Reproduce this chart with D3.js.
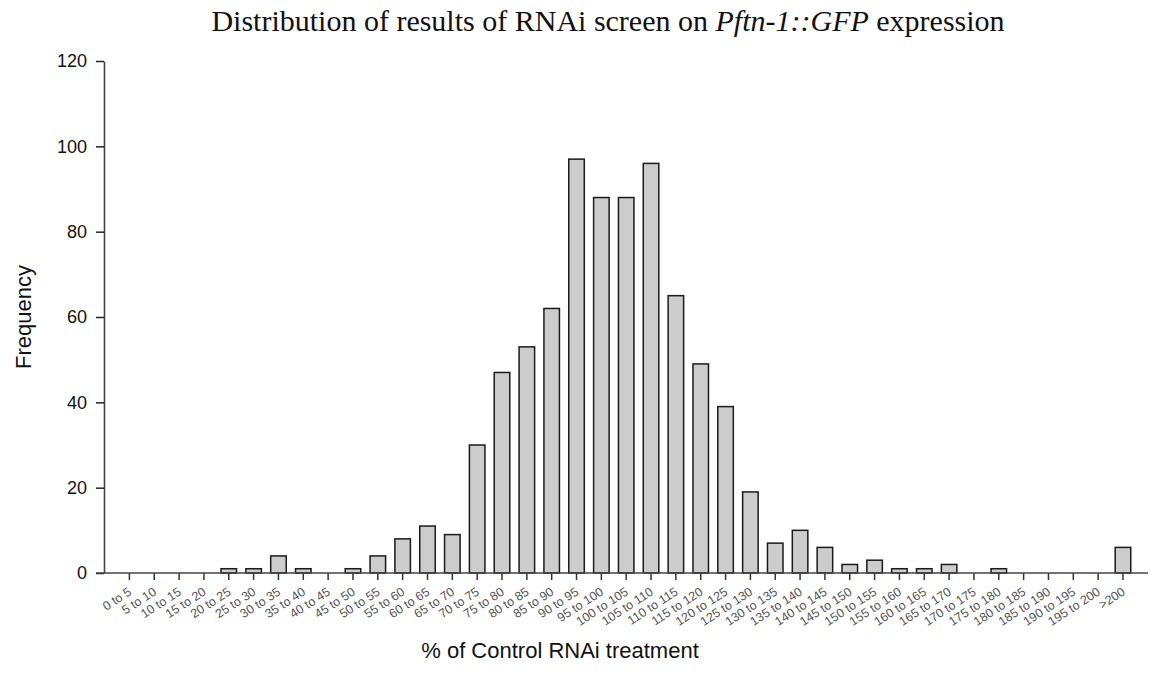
<!DOCTYPE html>
<html>
<head>
<meta charset="utf-8">
<script src="https://cdn.jsdelivr.net/npm/d3@7"></script>
<style>
  body { margin: 0; background: #fff; }
  text { font-family: "Liberation Sans", Arial, sans-serif; }
</style>
</head>
<body>
<div id="chart"></div>
<script>
const categories = [
    "0 to 5", "5 to 10", "10 to 15", "15 to 20", "20 to 25", "25 to 30", "30 to 35", "35 to 40",
    "40 to 45", "45 to 50", "50 to 55", "55 to 60", "60 to 65", "65 to 70", "70 to 75", "75 to 80",
    "80 to 85", "85 to 90", "90 to 95", "95 to 100", "100 to 105", "105 to 110", "110 to 115",
    "115 to 120", "120 to 125", "125 to 130", "130 to 135", "135 to 140", "140 to 145", "145 to 150",
    "150 to 155", "155 to 160", "160 to 165", "165 to 170", "170 to 175", "175 to 180", "180 to 185",
    "185 to 190", "190 to 195", "195 to 200", ">200"
];
const frequency = [
    0, 0, 0, 0, 1, 1, 4, 1,
    0, 1, 4, 8, 11, 9, 30, 47,
    53, 62, 97, 88, 88, 96, 65,
    49, 39, 19, 7, 10, 6, 2,
    3, 1, 1, 2, 0, 1, 0,
    0, 0, 0, 6
];
const yTicks = [0, 20, 40, 60, 80, 100, 120];

const width = 1151;
const height = 675;
const axisX = 104;
const plotTop = 61, plotBottom = 573;

const svg = d3.select("#chart")
    .append("svg")
    .attr("width", width)
    .attr("height", height);

const x = d3.scaleBand()
    .domain(categories)
    .range([117, 1135.4])
    .paddingInner(0.375)
    .paddingOuter(0.1875);

const y = d3.scaleLinear()
    .domain([0, 120])
    .range([plotBottom, plotTop]);

// bars
svg.selectAll(".bar")
    .data(categories)
    .enter()
    .append("rect")
    .attr("class", "bar")
    .attr("x", d => x(d))
    .attr("y", (d, i) => y(frequency[i]))
    .attr("width", x.bandwidth())
    .attr("height", (d, i) => y(0) - y(frequency[i]))
    .attr("fill", "#cccccc")
    .attr("stroke", "#1a1a1a")
    .attr("stroke-width", 1.5);

// y axis
const yAxis = svg.append("g")
    .attr("transform", `translate(${axisX},0)`)
    .call(d3.axisLeft(y).tickValues(yTicks).tickSize(8).tickSizeOuter(0).tickPadding(9));
yAxis.select(".domain").attr("stroke", "#444").attr("stroke-width", 1.6);
yAxis.selectAll(".tick line").attr("stroke", "#222").attr("stroke-width", 1.5);
yAxis.selectAll(".tick text")
    .attr("font-size", 18)
    .attr("fill", "#111")
    .style("font-family", "'Liberation Sans', Arial, sans-serif");

// x axis
const xAxis = svg.append("g")
    .attr("transform", `translate(0,${plotBottom})`)
    .call(d3.axisBottom(x).tickSize(7).tickSizeOuter(0));
xAxis.select(".domain").remove();
xAxis.append("line")
    .attr("x1", axisX - 8)
    .attr("x2", 1148)
    .attr("stroke", "#444")
    .attr("stroke-width", 1.6);
xAxis.selectAll(".tick line").attr("stroke", "#333").attr("stroke-width", 1.5);
xAxis.selectAll(".tick text")
    .attr("font-size", 12.5)
    .attr("fill", "#555")
    .attr("text-anchor", "end")
    .attr("dy", 0)
    .attr("y", 0)
    .attr("transform", "translate(3,21) rotate(-33)")
    .style("font-family", "'Liberation Sans', Arial, sans-serif");

// title
const title = svg.append("text")
    .attr("x", 608)
    .attr("y", 31)
    .attr("text-anchor", "middle")
    .style("font-family", "'Liberation Serif', 'Times New Roman', serif")
    .attr("font-size", 30)
    .attr("fill", "#111");
title.append("tspan").text("Distribution of results of RNAi screen on ");
title.append("tspan").attr("font-style", "italic").text("Pftn-1::GFP");
title.append("tspan").text(" expression");

// axis labels
svg.append("text")
    .attr("transform", `translate(31,${(plotTop + plotBottom) / 2}) rotate(-90)`)
    .attr("text-anchor", "middle")
    .attr("font-size", 22)
    .attr("fill", "#111")
    .text("Frequency");

svg.append("text")
    .attr("x", 560)
    .attr("y", 658)
    .attr("text-anchor", "middle")
    .attr("font-size", 22)
    .attr("fill", "#111")
    .text("% of Control RNAi treatment");
</script>
</body>
</html>
